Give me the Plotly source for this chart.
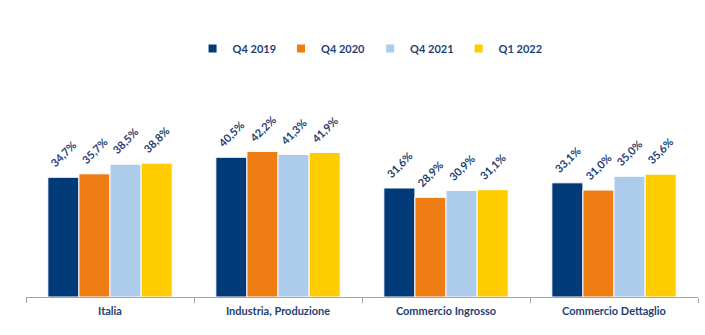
import plotly.graph_objects as go

categories = ["Italia", "Industria, Produzione", "Commercio Ingrosso", "Commercio Dettaglio"]
series_names = ["Q4 2019", "Q4 2020", "Q4 2021", "Q1 2022"]
values = [
    [34.7, 40.5, 31.6, 33.1],
    [35.7, 42.2, 28.9, 31.0],
    [38.5, 41.3, 30.9, 35.0],
    [38.8, 41.9, 31.1, 35.6],
]
colors = ["#003A78", "#EE7D14", "#ADCBEB", "#FFCC00"]
label_color = "#1F3F73"

fig = go.Figure()
n = len(series_names)
bar_px = 31  # approximate pixel width of each bar for label offsets
for i, (name, vals, col) in enumerate(zip(series_names, values, colors)):
    fig.add_trace(go.Bar(
        name=name, x=categories, y=vals, showlegend=False,
        marker=dict(color=col, line=dict(color="white", width=1)),
    ))
    fig.add_trace(go.Scatter(
        name=name, x=[None], y=[None], mode="markers",
        marker=dict(symbol="square", size=8, color=col),
    ))
    off = (i - (n - 1) / 2) * bar_px
    for c, v in zip(categories, vals):
        fig.add_annotation(
            x=c, y=v, xref="x", yref="y",
            text="<b>" + f"{v:.1f}%".replace(".", ",") + "</b>",
            textangle=-45, showarrow=False,
            xanchor="center", yanchor="bottom",
            xshift=off, yshift=5,
            font=dict(family="Lato", size=11, color=label_color),
        )

fig.update_layout(
    width=705, height=335,
    margin=dict(l=26, r=7, t=90, b=38),
    paper_bgcolor="white", plot_bgcolor="white",
    barmode="group", bargap=0.26, bargroupgap=0.0,
    font=dict(family="Lato", color=label_color),
    legend=dict(orientation="h", x=0.512, xanchor="center", y=1.2, yanchor="middle",
                font=dict(size=11, color=label_color, weight="bold"),
                itemwidth=30, traceorder="normal"),
    xaxis=dict(showline=True, linecolor="#A6A6A6", linewidth=1,
               ticks="outside", tickson="boundaries", ticklen=5, tickcolor="#A6A6A6",
               tickfont=dict(size=11, color=label_color, weight="bold"),
               ticklabelstandoff=4,
               showgrid=False),
    yaxis=dict(range=[0, 60], visible=False, showgrid=False),
    showlegend=True,
)

fig.write_html("out.html")
